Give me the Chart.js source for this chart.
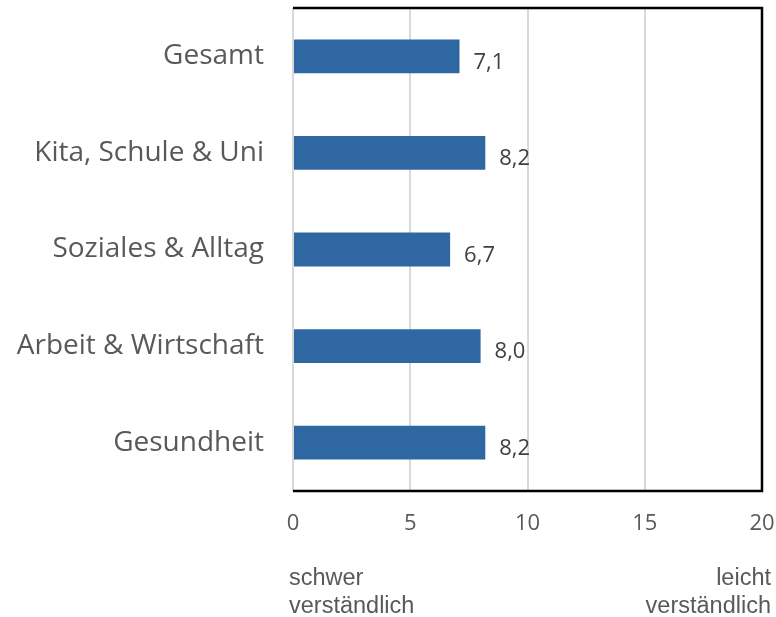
<!DOCTYPE html>
<html>
<head>
<meta charset="utf-8">
<script src="https://cdn.jsdelivr.net/npm/chart.js@4"></script>
<style>
  html, body { margin: 0; padding: 0; background: #fff; overflow: hidden; }
  #wrap { width: 776px; height: 617px; }
</style>
</head>
<body>
<div id="wrap"><canvas id="bar-chart" width="776" height="617"></canvas></div>
<script>
// data
const categories = ['Gesamt', 'Kita, Schule & Uni', 'Soziales & Alltag', 'Arbeit & Wirtschaft', 'Gesundheit'];
const values = [7.1, 8.2, 6.7, 8.0, 8.2];
const xTicks = [0, 5, 10, 15, 20];
const endLabels = [['schwer', 'verständlich'], ['leicht', 'verständlich']];

const extras = {
  id: 'extras',
  afterDatasetsDraw(chart) {
    const ctx = chart.ctx;
    const a = chart.chartArea;
    ctx.save();
    // frame: black top, right, bottom
    ctx.strokeStyle = '#000';
    ctx.lineWidth = 2.5;
    ctx.beginPath();
    ctx.moveTo(a.left, a.top);
    ctx.lineTo(a.right, a.top);
    ctx.lineTo(a.right, a.bottom);
    ctx.lineTo(a.left, a.bottom);
    ctx.stroke();
    // value labels
    ctx.fillStyle = '#404040';
    ctx.font = '22px "Open Sans"';
    ctx.textBaseline = 'middle';
    ctx.textAlign = 'left';
    chart.getDatasetMeta(0).data.forEach((bar, i) => {
      ctx.fillText(values[i].toFixed(1).replace('.', ','), bar.x + 14, bar.y + 6);
    });
    // bottom text
    ctx.fillStyle = '#595959';
    ctx.font = '23.5px "Liberation Sans"';
    ctx.textAlign = 'left';
    ctx.fillText(endLabels[0][0], 289, 579);
    ctx.fillText(endLabels[0][1], 289, 607);
    ctx.textAlign = 'right';
    ctx.fillText(endLabels[1][0], 771, 579);
    ctx.fillText(endLabels[1][1], 771, 607);
    ctx.restore();
  }
};

new Chart(document.getElementById('bar-chart'), {
  type: 'bar',
  data: {
    labels: categories,
    datasets: [{
      data: values,
      backgroundColor: '#2F67A3',
      barPercentage: 0.35,
      categoryPercentage: 1.0
    }]
  },
  options: {
    indexAxis: 'y',
    responsive: false,
    animation: false,
    layout: { autoPadding: false, padding: { top: 8, right: 14, left: 0, bottom: 0 } },
    plugins: {
      legend: { display: false },
      tooltip: { enabled: false }
    },
    scales: {
      x: {
        min: 0,
        max: 20,
        afterBuildTicks: s => { s.ticks = xTicks.map(v => ({ value: v })); },
        afterFit: s => { s.height = 617 - 491; s.paddingLeft = 0; s.paddingRight = 0; },
        grid: { color: '#D9D9D9', lineWidth: 2, drawTicks: false },
        border: { display: false },
        ticks: { color: '#595959', font: { family: 'Open Sans', size: 22 }, padding: 20 }
      },
      y: {
        afterFit: s => { s.width = 293; s.paddingTop = 0; s.paddingBottom = 0; },
        grid: { display: false, drawTicks: false },
        border: { display: false },
        ticks: { color: '#595959', font: { family: 'Open Sans', size: 28 }, padding: 29 }
      }
    }
  },
  plugins: [extras]
});
</script>
</body>
</html>
